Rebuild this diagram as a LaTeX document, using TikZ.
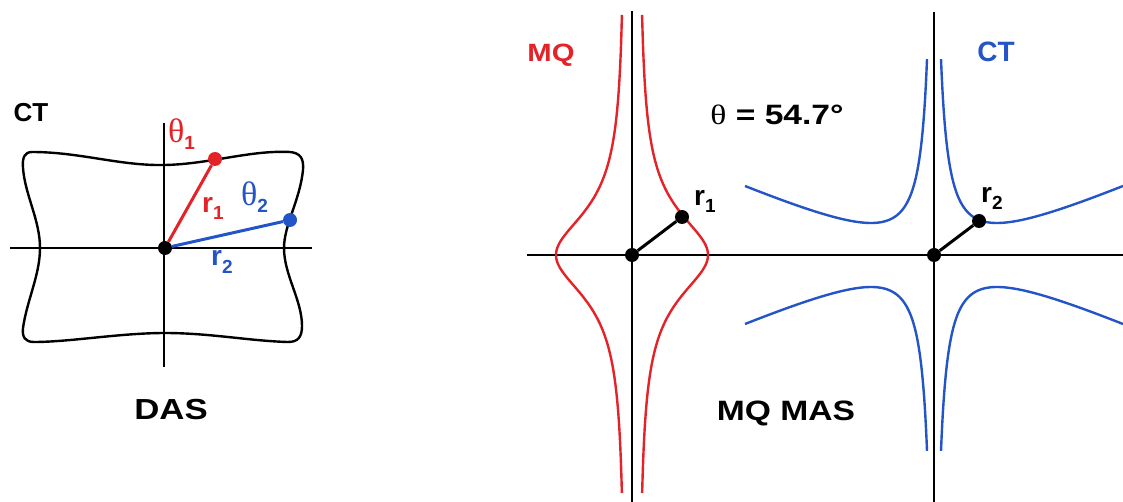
\documentclass[tikz,border=0pt]{standalone}
\usepackage{fontspec}
\setmainfont{Liberation Sans}
\newfontfamily\grk{Liberation Serif}
\definecolor{myred}{RGB}{228,35,40}
\definecolor{myblue}{RGB}{35,85,200}
\newcommand\fsz[1]{\fontsize{#1}{#1}\selectfont}
\newcommand\subs[1]{\raisebox{-7pt}{\fsz{19}\bfseries #1}}
\begin{document}
\begin{tikzpicture}[x=1pt,y=-1pt,
  axis/.style={line width=1.8pt, black},
  curve/.style={line width=2.4pt, line join=round},
  conn/.style={line width=3pt},
  dot/.style={circle, fill, inner sep=0pt, minimum size=14pt},
  lbl/.style={inner sep=0pt, anchor=base},
  lblw/.style={inner sep=0pt, anchor=base west}]
\useasboundingbox (0,0) rectangle (1123,502);
\fill[white] (0,0) rectangle (1123,502);

% ---------- left panel (DAS) ----------
\coordinate (hL1) at (10,248);
\coordinate (hL2) at (312,248);
\coordinate (vL1) at (164,123);
\coordinate (vL2) at (164,367);
\draw[axis] (hL1) -- (hL2);
\draw[axis] (vL1) -- (vL2);

\draw[curve, black] (32,152) .. controls (80,152) and (120,166) .. (165,165)
  .. controls (210,164) and (250,150) .. (290,152)
  .. controls (300,153) and (304,158) .. (303,170)
  .. controls (300,200) and (284,225) .. (284,248)
  .. controls (284,275) and (302,300) .. (302,326)
  .. controls (302,337) and (298,342) .. (288,342)
  .. controls (250,341) and (210,333) .. (165,333)
  .. controls (120,333) and (70,342) .. (34,342)
  .. controls (25,342) and (22,337) .. (23,328)
  .. controls (27,300) and (40,275) .. (40,248)
  .. controls (40,220) and (25,195) .. (23,168)
  .. controls (22,157) and (25,152) .. (32,152) -- cycle;

\node[dot, black] (o1) at (165,248) {};
\node[dot, myred] (p1) at (215,159) {};
\node[dot, myblue] (p2) at (290,220) {};
\draw[conn, myred] (o1) -- (p1);
\draw[conn, myblue] (o1) -- (p2);

\node[lbl, font=\bfseries\fsz{26}] (ctL) at (31,122) {CT};
\node[lblw, myred] (th1) at (168,143) {{\grk\fsz{34}θ}\subs{1}};
\node[lblw, myred, font=\bfseries\fsz{28}] (r1L) at (202,213) {r\subs{1}};
\node[lblw, myblue] (th2) at (241,206) {{\grk\fsz{34}θ}\subs{2}};
\node[lblw, myblue, font=\bfseries\fsz{28}] (r2L) at (211,266) {r\subs{2}};
\node[lbl, font=\bfseries\fsz{29}] (das) at (171,419) {\scalebox{1.2}[1]{DAS}};

% ---------- right panels (MQ MAS) ----------
\coordinate (hR1) at (527,255);
\coordinate (hR2) at (1123,255);
\coordinate (vM1) at (632,11);
\coordinate (vM2) at (632,502);
\coordinate (vR1) at (934,12);
\coordinate (vR2) at (934,502);
\draw[axis] (hR1) -- (hR2);
\draw[axis] (vM1) -- (vM2);
\draw[axis] (vR1) -- (vR2);

% MQ red curve
\begin{scope}[shift={(632,255)}]
\draw[curve, myred] plot[domain=-240:238, samples=240] ({7+69/(1+(\x/52)^2)}, \x);
\draw[curve, myred] plot[domain=-240:238, samples=240] ({-7-69/(1+(\x/52)^2)}, \x);
\end{scope}

% CT blue curves
\begin{scope}[shift={(934,255)}]
\draw[curve, myblue] plot[domain=7:189, samples=300] (\x, {-(1847/(\x+1.5)+0.444*\x-24.6)});
\draw[curve, myblue] plot[domain=7:189, samples=300] ({-\x}, {-(1847/(\x+1.5)+0.444*\x-24.6)});
\draw[curve, myblue] plot[domain=7:189, samples=300] (\x, {1847/(\x+1.5)+0.444*\x-24.6});
\draw[curve, myblue] plot[domain=7:189, samples=300] ({-\x}, {1847/(\x+1.5)+0.444*\x-24.6});
\end{scope}

\node[dot, black] (o2) at (632,255) {};
\node[dot, black] (q1) at (682,217) {};
\draw[conn, black] (o2) -- (q1);
\node[dot, black] (o3) at (934,255) {};
\node[dot, black] (q2) at (979,221) {};
\draw[conn, black] (o3) -- (q2);

\node[lblw, font=\bfseries\fsz{28}] (r1R) at (694,206) {r\subs{1}};
\node[lblw, font=\bfseries\fsz{28}] (r2R) at (981,203) {r\subs{2}};

\node[lbl, myred, font=\bfseries\fsz{25}] (mq) at (551,62) {\scalebox{1.17}[1]{MQ}};
\node[lbl, myblue, font=\bfseries\fsz{28}] (ctR) at (996,62) {CT};
\node[lbl, font=\bfseries\fsz{28}] (theta) at (777,125) {\scalebox{1.2}[1]{{\grk\mdseries θ} = 54.7°}};
\node[lbl, font=\bfseries\fsz{28}] (mqmas) at (786,420) {\scalebox{1.2}[1]{MQ MAS}};
\end{tikzpicture}
\end{document}
